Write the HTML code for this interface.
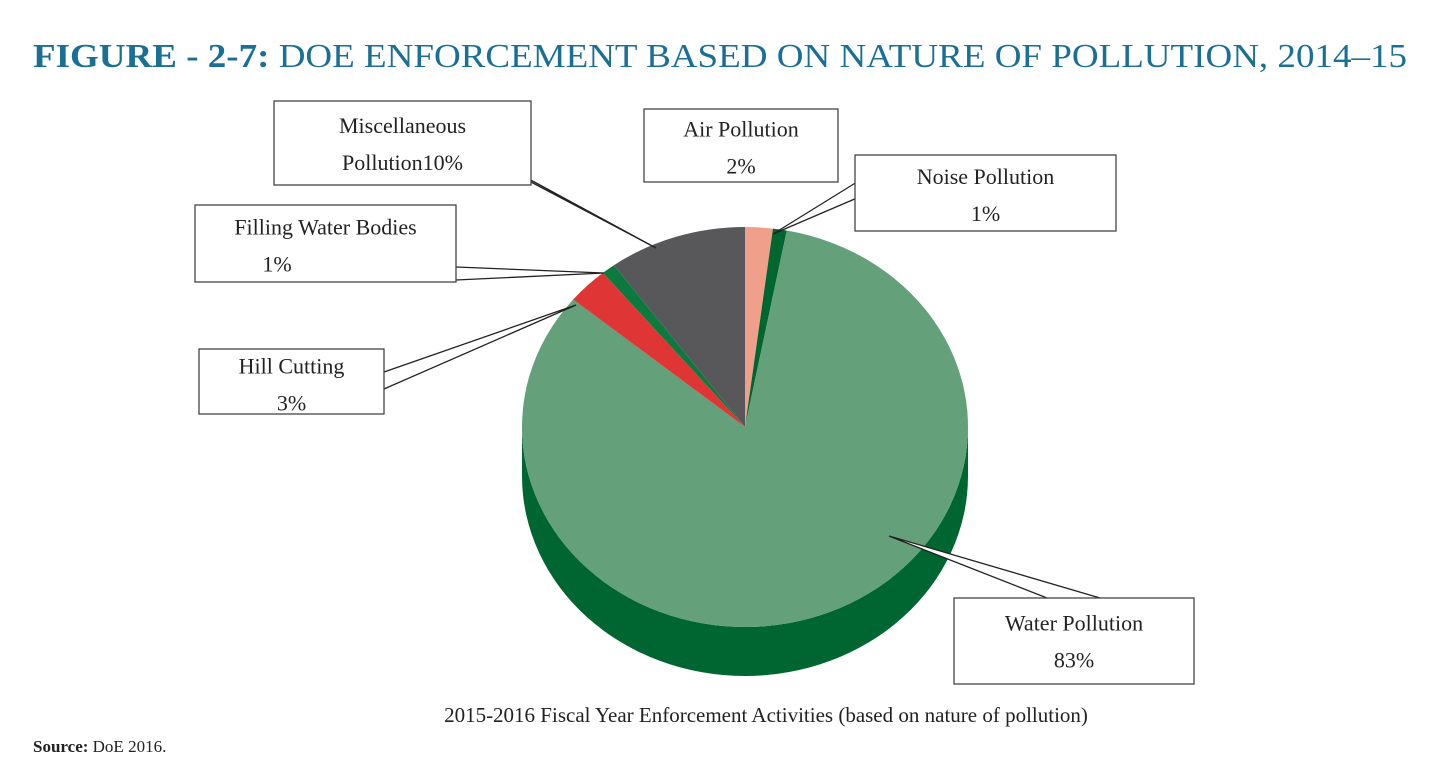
<!DOCTYPE html>
<html><head><meta charset="utf-8"><style>
html,body{margin:0;padding:0;background:#fff;}
svg{display:block;font-family:"Liberation Serif",serif;}
</style></head><body>
<svg width="1439" height="780" viewBox="0 0 1439 780">
<text x="33" y="67" font-size="34" fill="#1a6f95" textLength="1374" lengthAdjust="spacingAndGlyphs"><tspan font-weight="bold">FIGURE - 2-7:</tspan> DOE ENFORCEMENT BASED ON NATURE OF POLLUTION, 2014–15</text>
<g id="pie"></g>
<g id="callouts"></g>
<text x="766" y="722" font-size="21" text-anchor="middle" fill="#222">2015-2016 Fiscal Year Enforcement Activities (based on nature of pollution)</text>
<text x="33" y="752" font-size="17" fill="#222"><tspan font-weight="bold">Source:</tspan> DoE 2016.</text>
</svg>
<script>
const categories=["Air Pollution","Noise Pollution","Water Pollution","Hill Cutting","Filling Water Bodies","Miscellaneous Pollution"];
const values=[2,1,83,3,1,10];
const colors=["#f0a08a","#00662f","#64a07a","#e03535","#0c7a3e","#58585a"];
const NS="http://www.w3.org/2000/svg";
const cx=745,cy=427,rx=223,ry=200,depth=49;
const pie=document.getElementById('pie');
function pt(a,dy){return [cx+rx*Math.sin(a),cy-ry*Math.cos(a)+(dy||0)];}
// side (bottom half)
const side=document.createElementNS(NS,'path');
side.setAttribute('d',`M${cx-rx},${cy} A${rx},${ry} 0 0 0 ${cx+rx},${cy} L${cx+rx},${cy+depth} A${rx},${ry} 0 0 1 ${cx-rx},${cy+depth} Z`);
side.setAttribute('fill','#006631');


pie.appendChild(side);
const total=values.reduce((a,b)=>a+b,0);
let acc=0;
values.forEach((v,i)=>{
  const a0=acc/total*2*Math.PI; acc+=v; const a1=acc/total*2*Math.PI;
  const p0=pt(a0),p1=pt(a1);
  const large=(a1-a0)>Math.PI?1:0;
  const p=document.createElementNS(NS,'path');
  p.setAttribute('d',`M${cx},${cy} L${p0[0]},${p0[1]} A${rx},${ry} 0 ${large} 1 ${p1[0]},${p1[1]} Z`);
  p.setAttribute('fill',colors[i]);
  
  
  pie.appendChild(p);
});
const labels=[
 {n:"air",box:[644,109,194,73],l1:"Air Pollution",l2:"2%",w:null},
 {n:"noise",box:[855,155,261,76],l1:"Noise Pollution",l2:"1%",w:[[857,182],[773,234],[857,198]]},
 {n:"water",box:[954,598,240,86],l1:"Water Pollution",l2:"83%",w:[[1047,598],[889,536],[1100,598]]},
 {n:"hill",box:[199,349,185,65],l1:"Hill Cutting",l2:"3%",w:[[384,372],[576,305],[384,389]]},
 {n:"filling",box:[195,205,261,77],l1:"Filling Water Bodies",l2:"1%",w:[[456,267],[604,273],[456,280]],l2x:277},
 {n:"misc",box:[274,101,257,84],l1:"Miscellaneous",l2:"Pollution10%",w:[[527,178],[656,248],[531,182]]}
];
const co=document.getElementById('callouts');
labels.forEach(L=>{
  const g=document.createElementNS(NS,'g');
  
  
  if(L.w){const pl=document.createElementNS(NS,'polyline');
    pl.setAttribute('points',L.w.map(p=>p.join(',')).join(' '));
    pl.setAttribute('fill','#fff');pl.setAttribute('stroke','#222');pl.setAttribute('stroke-width','1.3');
    
    
    g.appendChild(pl);}
  const [x,y,w,h]=L.box;
  const r=document.createElementNS(NS,'rect');
  r.setAttribute('x',x);r.setAttribute('y',y);r.setAttribute('width',w);r.setAttribute('height',h);
  r.setAttribute('fill','#fff');r.setAttribute('stroke','#444');r.setAttribute('stroke-width','1.3');
  
  
  g.appendChild(r);
  [[L.l1,y+h*0.38,x+w/2],[L.l2,y+h*0.38+37,L.l2x||x+w/2]].forEach((t,k)=>{
    const tx=document.createElementNS(NS,'text');
    tx.setAttribute('x',t[2]);tx.setAttribute('y',t[1]);tx.setAttribute('font-size','22');
    tx.setAttribute('text-anchor','middle');tx.setAttribute('fill','#222');
    
    
    tx.textContent=t[0];g.appendChild(tx);});
  co.appendChild(g);
});
</script>
</body></html>
